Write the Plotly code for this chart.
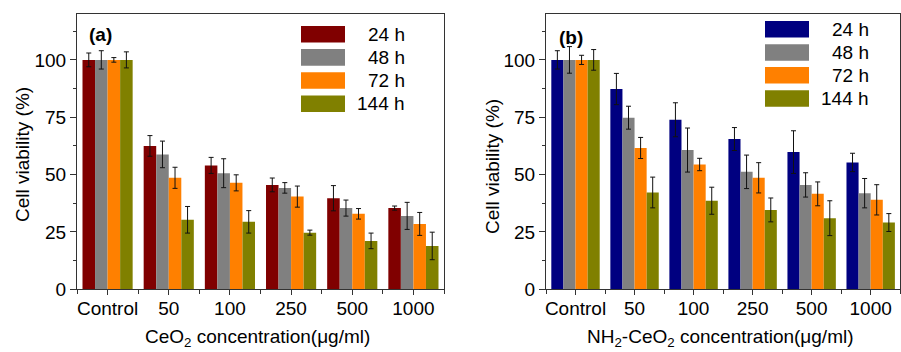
import plotly.graph_objects as go

# ---- data -------------------------------------------------------------
categories = ["Control", "50", "100", "250", "500", "1000"]
hours = ["24 h", "48 h", "72 h", "144 h"]

# CeO2 nanoparticles: mean viability (%) and error
ceo2_24h = [100, 62.5, 54.0, 45.5, 39.7, 35.4]
ceo2_48h = [100, 58.8, 50.6, 44.2, 35.4, 32.0]
ceo2_72h = [100, 48.6, 46.4, 40.4, 32.9, 28.5]
ceo2_144h = [100, 30.3, 29.4, 24.7, 21.1, 18.9]
ceo2_24h_err = [3.0, 4.5, 3.5, 3.0, 5.5, 0.9]
ceo2_48h_err = [4.0, 5.8, 6.3, 2.3, 3.5, 5.9]
ceo2_72h_err = [1.0, 4.6, 3.5, 4.6, 2.3, 5.0]
ceo2_144h_err = [3.5, 5.8, 4.9, 1.1, 3.4, 6.0]

# NH2-CeO2 nanoparticles: mean viability (%) and error
nh2_24h = [100, 87.3, 73.9, 65.5, 59.8, 55.3]
nh2_48h = [100, 74.8, 60.7, 51.2, 45.5, 41.9]
nh2_72h = [100, 61.6, 54.4, 48.6, 41.6, 39.0]
nh2_144h = [100, 42.2, 38.6, 34.6, 31.0, 29.1]
nh2_24h_err = [4.0, 6.8, 7.4, 5.0, 9.3, 4.0]
nh2_48h_err = [5.8, 5.0, 9.6, 7.3, 5.3, 6.4]
nh2_72h_err = [2.0, 4.6, 2.7, 6.6, 5.2, 6.6]
nh2_144h_err = [4.5, 6.7, 5.9, 5.2, 7.6, 3.9]

colors_a = ["#800000", "#808080", "#FF8000", "#808000"]
colors_b = ["#000080", "#808080", "#FF8000", "#808000"]

W, H = 901, 352
FONT = "Arial, Liberation Sans, sans-serif"


def px(x):
    return x / W


def py(y):
    return 1 - y / H


fig = go.Figure()
xpos = list(range(len(categories)))

panels = [
    ("x", "y", [ceo2_24h, ceo2_48h, ceo2_72h, ceo2_144h],
     [ceo2_24h_err, ceo2_48h_err, ceo2_72h_err, ceo2_144h_err], colors_a),
    ("x2", "y2", [nh2_24h, nh2_48h, nh2_72h, nh2_144h],
     [nh2_24h_err, nh2_48h_err, nh2_72h_err, nh2_144h_err], colors_b),
]
for xa, ya, series, errs, cols in panels:
    for name, vals, err, c in zip(hours, series, errs, cols):
        fig.add_trace(go.Bar(
            x=xpos, y=vals, name=name, xaxis=xa, yaxis=ya,
            marker=dict(color=c, line=dict(width=0)),
            error_y=dict(type="data", array=err, color="#111111",
                         thickness=1, width=2.5),
            offsetgroup=name, showlegend=False,
        ))

axis_line = dict(showline=True, linecolor="#333333", linewidth=1,
                 mirror=True, showgrid=False, zeroline=False,
                 automargin=False,
                 tickfont=dict(family=FONT, size=19, color="black"))

xcommon = dict(axis_line, range=[-0.5, 5.5], tickmode="array",
               tickvals=xpos, ticktext=categories, ticks="outside",
               ticklen=5, tickcolor="#333333", ticklabelstandoff=-3,
               minor=dict(tickvals=[i - 0.5 for i in range(len(categories) + 1)],
                          ticks="outside", ticklen=4, tickcolor="#333333"))
ycommon = dict(axis_line, range=[0, 120], tickmode="array",
               tickvals=[0, 25, 50, 75, 100],
               ticks="outside", ticklen=6, tickcolor="#333333",
               minor=dict(tickvals=[12.5, 37.5, 62.5, 87.5, 112.5],
                          ticks="outside", ticklen=3, tickcolor="#333333"))

yd = [1 - 289.3 / H, 1 - 14 / H]
fig.update_layout(
    template="none",
    width=W, height=H, autosize=False,
    margin=dict(l=0, r=0, t=0, b=0, pad=0, autoexpand=False),
    paper_bgcolor="white", plot_bgcolor="white",
    showlegend=False,
    barmode="group", bargap=0.18, bargroupgap=0,
    font=dict(family=FONT, size=19, color="black"),
    xaxis=dict(xcommon, domain=[px(77), px(444)], anchor="y"),
    yaxis=dict(ycommon, domain=yd, anchor="x"),
    xaxis2=dict(xcommon, domain=[px(546), px(900.2)], anchor="y2"),
    yaxis2=dict(ycommon, domain=yd, anchor="x2"),
)

annotations = []
shapes = []


def text(x, y, s, xanchor="center", yanchor="middle", angle=0, bold=False):
    label = f"<b>{s}</b>" if bold else s
    annotations.append(dict(
        x=px(x), y=py(y), xref="paper", yref="paper", text=label,
        showarrow=False, xanchor=xanchor, yanchor=yanchor, textangle=angle,
        font=dict(family=FONT, size=19, color="black"),
    ))


# axis titles
text(22, 155, "Cell viability (%)", angle=-90)
text(493, 167, "Cell viability (%)", angle=-90)
text(257, 338, "CeO<sub>2</sub> concentration(\u03bcg/ml)")
text(720, 338, "NH<sub>2</sub>-CeO<sub>2</sub> concentration(\u03bcg/ml)")

# panel labels
text(87, 35, "(a)", xanchor="left", bold=True)
text(557, 37, "(b)", xanchor="left", bold=True)

# legends: colour swatches with right-aligned labels
legend_specs = [
    (301, 345, [34.3, 57.4, 80.5, 103.8], 407, colors_a),
    (765, 809, [29.2, 52.5, 75.3, 98.5], 871, colors_b),
]
for x0, x1, rows, tx, cols in legend_specs:
    for name, yc, c in zip(hours, rows, cols):
        shapes.append(dict(type="rect", xref="paper", yref="paper",
                           x0=px(x0), x1=px(x1), y0=py(yc + 8.3), y1=py(yc - 8.3),
                           fillcolor=c, line=dict(width=0)))
        text(tx, yc, name, xanchor="right")

fig.update_layout(annotations=annotations, shapes=shapes)
fig.write_html("out.html")
